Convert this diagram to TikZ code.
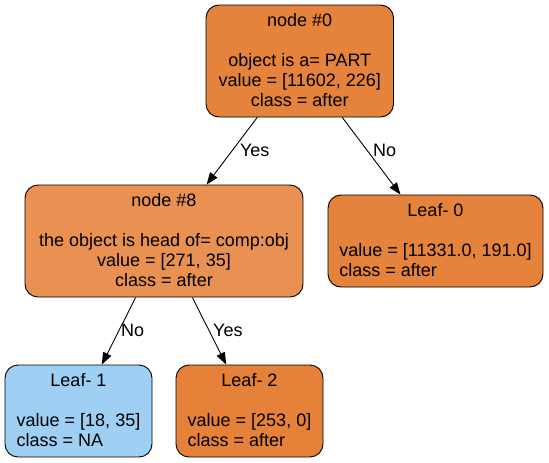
\documentclass[tikz,border=0pt]{standalone}
\usepackage{fontspec}
\setmainfont{Liberation Sans}
\usepackage{tikz}
\usetikzlibrary{shapes.geometric, arrows.meta}
\definecolor{fullorange}{HTML}{E5833C}
\definecolor{pureorange}{HTML}{E58139}
\definecolor{lightorange}{HTML}{E89152}
\definecolor{lightblue}{HTML}{9FCFF2}
\tikzstyle{split} = [rectangle, rounded corners=13pt, minimum height=112pt, inner sep=0pt, text centered, draw=black, line width=0.9pt, font=\fontsize{18}{20}\selectfont]
\tikzstyle{leaf} = [rectangle, rounded corners=13pt, minimum height=92pt, inner sep=0pt, text centered, draw=black, line width=0.9pt, font=\fontsize{18}{20}\selectfont]
\tikzstyle{arrow} = [line width=0.9pt, ->, >={Triangle[length=12pt,width=9pt]}]
\tikzstyle{lbl} = [anchor=west, inner sep=0pt, font=\fontsize{18}{20}\selectfont]
\newcommand{\splittext}[4]{\begin{tabular}{@{}c@{}}\rule{0pt}{17pt}#1\\[20pt]#2\\#3\\#4\end{tabular}}
\newcommand{\leaftext}[3]{\begin{tabular}{@{}l@{}}\multicolumn{1}{@{}c@{}}{\rule{0pt}{17pt}#1}\\[20pt]#2\\#3\end{tabular}}
\begin{document}
\begin{tikzpicture}[x=1pt, y=1pt, node distance=180pt]
\useasboundingbox (0,0) rectangle (549,-463);
\node (node0) [split, minimum width=187.5pt, fill=fullorange] at (299.75,-61) {\splittext{node \#0}{object is a= PART}{value = [11602, 226]}{class = after}};
\node (node8) [split, below of = node0, xshift=-135.75pt, minimum width=278pt, fill=lightorange] {\splittext{node \#8}{the object is head of= comp:obj}{value = [271, 35]}{class = after}};
\node (leaf0) [leaf, below of = node0, xshift=135.75pt, minimum width=215pt, fill=fullorange] {\leaftext{Leaf- 0}{value = [11331.0, 191.0]}{class = after}};
\node (leaf1) [leaf, below of = node8, xshift=-85.5pt, yshift=10pt, minimum width=147pt, fill=lightblue] {\leaftext{Leaf- 1}{value = [18, 35]}{class = NA}};
\node (leaf2) [leaf, below of = node8, xshift=85.5pt, yshift=10pt, minimum width=147pt, fill=pureorange] {\leaftext{Leaf- 2}{value = [253, 0]}{class = after}};
\draw [arrow] (node0) -- node[lbl, pos=0.485, xshift=7pt] {Yes} (node8);
\draw [arrow] (node0) -- node[lbl, pos=0.423, xshift=5.7pt] {No} (leaf0);
\draw [arrow] (node8) -- node[lbl, pos=0.485, xshift=1.5pt] {No} (leaf1);
\draw [arrow] (node8) -- node[lbl, pos=0.485, xshift=4pt] {Yes} (leaf2);
\end{tikzpicture}
\end{document}
